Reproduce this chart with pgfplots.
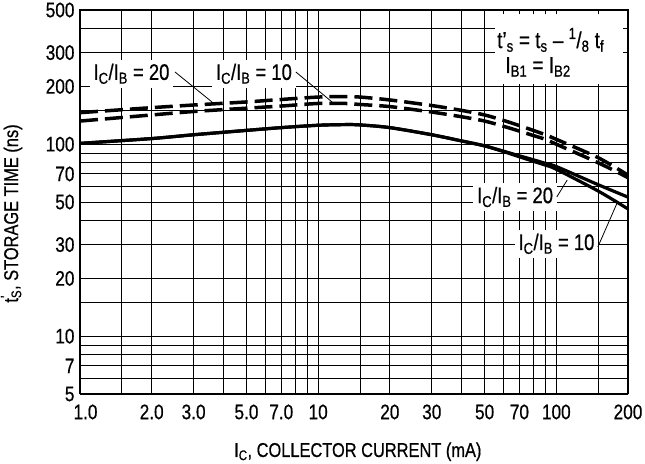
\documentclass[border=0pt]{standalone}
\usepackage{pgfplots}
\pgfplotsset{compat=1.18}
\usepackage{fontspec}
\setmainfont{Liberation Sans}[FakeStretch=0.82, FakeBold=0.6]

% storage time t's vs collector current, log-log
\begin{document}
\begin{tikzpicture}[font=\fontsize{21}{25}\selectfont]
\begin{axis}[
  scale only axis,
  width=548pt, height=384pt,
  xmode=log, ymode=log,
  xmin=1, xmax=200, ymin=5, ymax=500,
  axis line style={black, line width=1pt},
  xtick={1,2,3,5,7,10,20,30,50,70,100,200},
  xticklabels={\kern11pt1.0,2.0,3.0,5.0,7.0,10,20,30,50,70,100,200},
  minor xtick={1.5,4,6,8,9,15,40,60,80,90,150},
  ytick={5,7,10,20,30,50,70,100,200,300,500},
  yticklabels={5,7,10,20,30,50,70,100,200,300,500},
  minor ytick={6,8,9,15,40,60,80,90,150,400},
  major tick length=0pt, minor tick length=0pt,
  grid=both,
  grid style={black, line width=0.9pt},
  minor grid style={black, line width=0.9pt},
  xticklabel style={yshift=-7pt},
  yticklabel style={xshift=-2pt},
  xlabel={I\textsubscript{C}, COLLECTOR CURRENT (mA)},
  xlabel style={at={(axis description cs:0.507,-0.164)}, anchor=base,
    font=\fontsize{20}{24}\selectfont},
  ylabel={t\rlap{\textsuperscript{’}}\textsubscript{S}, STORAGE TIME (ns)},
  ylabel style={at={(axis description cs:-0.099,0.47)}, anchor=south,
    font=\fontsize{20}{24}\selectfont},
]
% I_C/I_B = 20, dashed
\addplot[black, line width=3.5pt, dash pattern=on 18pt off 7pt, smooth] coordinates {
  (1,146) (2,155) (3,160) (5,166) (7,171) (10,176) (13,177) (15,176) (20,170)
  (30,159) (40,150) (50,142) (60,133) (70,125) (80,118) (90,112) (100,106)
  (150,85) (200,69)};
% I_C/I_B = 10, dashed
\addplot[black, line width=3.5pt, dash pattern=on 18pt off 7pt, smooth] coordinates {
  (1,132) (2,142) (3,148) (5,154) (7,158) (10,163) (13,163) (15,161) (20,157)
  (30,147) (40,139) (50,132) (60,124) (70,117) (80,111) (90,106) (100,100)
  (150,80) (200,67)};
% I_C/I_B = 20, solid
\addplot[black, line width=3.2pt, smooth] coordinates {
  (1,101) (2,107) (3,112) (5,118) (7,122) (10,125.5) (13,126.5) (15,126) (20,122)
  (30,112) (40,104) (50,98) (60,92) (70,87) (80,83) (90,79.5) (100,76.5)
  (150,61.5) (200,53)};
% I_C/I_B = 10, solid
\addplot[black, line width=3.2pt, smooth] coordinates {
  (1,101) (2,107) (3,112) (5,118) (7,122) (10,125.5) (13,126.5) (15,126) (20,122)
  (30,112) (40,104) (50,98) (60,91.5) (70,86) (80,81.5) (90,77.8) (100,74)
  (150,57) (200,46)};

% labels
\begin{scope}[font=\fontsize{22.5}{26}\selectfont]
\node[fill=white, inner sep=4pt, anchor=base] at (rel axis cs:0.094,0.818) {I\textsubscript{C}/I\textsubscript{B} = 20};
\node[fill=white, inner sep=4pt, anchor=base] at (rel axis cs:0.3175,0.818) {I\textsubscript{C}/I\textsubscript{B} = 10};
\node[fill=white, inner sep=4pt, anchor=base] at (rel axis cs:0.794,0.497) {I\textsubscript{C}/I\textsubscript{B} = 20};
\node[fill=white, inner sep=4pt, anchor=base] at (rel axis cs:0.8695,0.375) {I\textsubscript{C}/I\textsubscript{B} = 10};
\end{scope}
\draw[black, line width=0.8pt] (rel axis cs:0.1734,0.8385) -- (rel axis cs:0.2409,0.7604);
\draw[black, line width=0.8pt] (rel axis cs:0.394,0.8385) -- (rel axis cs:0.460,0.7604);
\draw[black, line width=0.8pt] (rel axis cs:0.870,0.513) -- (rel axis cs:0.889,0.557);
\draw[black, line width=0.8pt] (rel axis cs:0.945,0.383) -- (rel axis cs:0.980,0.497);

\fill[white] (rel axis cs:0.757,0.807) rectangle (rel axis cs:0.991,0.990);
\begin{scope}[font=\fontsize{23}{26}\selectfont]
\node[anchor=base west, inner sep=0pt] at (rel axis cs:0.761,0.901)
  {t’\textsubscript{s} = t\textsubscript{s} -- \textsuperscript{1}/\textsubscript{8} t\textsubscript{f}};
\node[anchor=base west, inner sep=0pt] at (rel axis cs:0.776,0.836)
  {I\textsubscript{B1} = I\textsubscript{B2}};
\end{scope}

% heavy left/bottom frame
\draw[black, line width=2.5pt] (rel axis cs:0,1) -- (rel axis cs:0,0) -- (rel axis cs:1,0);
\draw[black, line width=1.6pt] (rel axis cs:1,0) -- (rel axis cs:1,1);
\end{axis}
\pgfresetboundingbox
\path[use as bounding box] ([shift={(-80pt,-70pt)}]current axis.south west) rectangle ([shift={(17pt,10pt)}]current axis.north east);
\end{tikzpicture}
\end{document}
